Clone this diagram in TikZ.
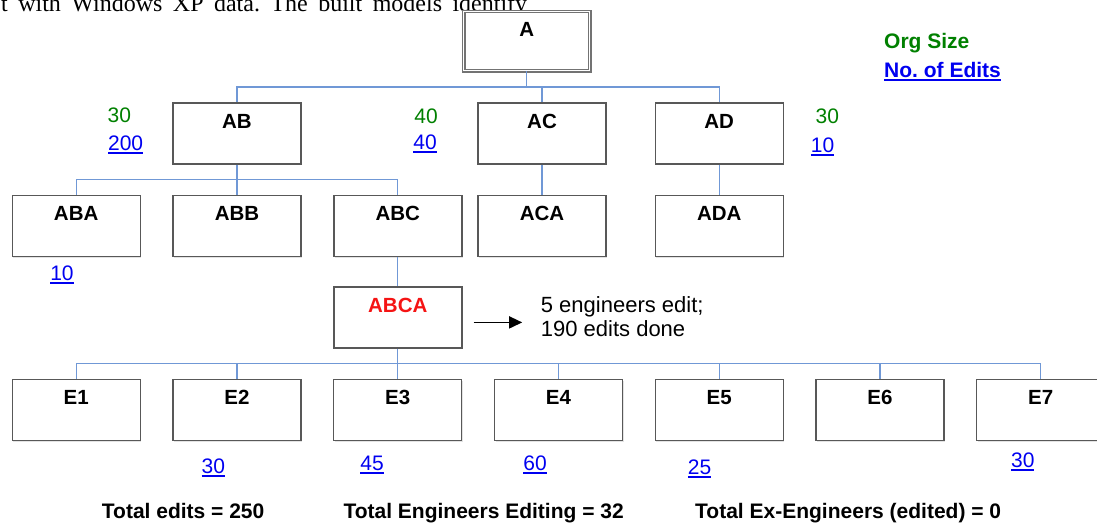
\documentclass[tikz,border=0pt]{standalone}
\usepackage{fontspec}
\setmainfont{Liberation Sans}
\newfontfamily\paperfont{Liberation Serif}
\usetikzlibrary{arrows.meta,shadows}
\definecolor{boxgray}{RGB}{88,88,88}
\definecolor{lineblue}{RGB}{112,152,214}
\definecolor{sizegreen}{RGB}{0,128,0}
\definecolor{editblue}{RGB}{0,0,240}
\definecolor{rootred}{RGB}{245,20,20}
\frenchspacing
\newcommand{\editcount}[1]{\setbox0\hbox{#1}\rlap{\rule[-3.4pt]{\wd0}{1.7pt}}\box0}
\tikzset{
  >={Triangle[length=13pt,width=12pt]},
  unit/.style={draw=boxgray,line width=1.4pt,fill=white,anchor=north,
    minimum width=128pt,minimum height=61pt,inner ysep=10.5pt,
    text height=14.7pt,text depth=25.3pt,font=\fontsize{20.5}{22}\selectfont\bfseries,
    drop shadow={opacity=0.22,shadow xshift=1.2pt,shadow yshift=-1.2pt}},
  root/.style={unit,draw=black!55,line width=1.2pt,double=white,double distance=1.4pt,
    minimum width=126pt,minimum height=59.2pt,text depth=23.5pt},
  tie/.style={draw=lineblue,line width=1.3pt},
  sizelbl/.style={text=sizegreen,font=\fontsize{21}{24}\selectfont,anchor=base,inner sep=0pt},
  editlbl/.style={text=editblue,font=\fontsize{21}{24}\selectfont,anchor=base,inner sep=0pt},
  note/.style={anchor=west,align=left,inner sep=0pt,font=\fontsize{22}{24}\selectfont},
  tally/.style={font=\fontsize{21}{24}\selectfont\bfseries,anchor=base west,inner sep=0pt},
  pointer/.style={->,line width=1.5pt,black},
}

\begin{document}
\begin{tikzpicture}[x=1pt,y=-1pt]
  \useasboundingbox (0,0) rectangle (1097,525);
  \clip (0,0) rectangle (1097,525);
  \node[font=\paperfont\fontsize{24}{26}\selectfont,anchor=base west,inner sep=0pt] (intro) at (1,11)
    {\makebox[526pt][s]{t with Windows XP data. The built models identify}};

  % org tree
  \node[root] (a) at (526.7,10.9) {A};
  \node[unit] (ab) at (237,102.4) {AB};
  \node[unit] (ac) at (542,102.4) {AC};
  \node[unit] (ad) at (719.2,102.4) {AD};
  \node[unit] (aba) at (76.2,194.9) {ABA};
  \node[unit] (abb) at (237,194.9) {ABB};
  \node[unit] (abc) at (397.8,194.9) {ABC};
  \node[unit] (aca) at (542,194.9) {ACA};
  \node[unit] (ada) at (719.2,194.9) {ADA};
  \node[unit,text=rootred] (abca) at (397.8,286.4) {ABCA};
  \foreach \i in {1,...,7}
    \node[unit] (e\i) at ({76.2+(\i-1)*160.75},379) {E\i};

  \foreach \c in {ab,ac,ad} \draw[tie] (a.south) -- ++(0,15.8) -| (\c.north);
  \foreach \c in {aba,abb,abc} \draw[tie] (ab.south) -- ++(0,15) -| (\c.north);
  \draw[tie] (ac.south) -- (aca.north);
  \draw[tie] (ad.south) -- (ada.north);
  \draw[tie] (abc.south) -- (abca.north);
  \foreach \i in {1,...,7} \draw[tie] (abca.south) -- ++(0,15) -| (e\i.north);

  % org sizes and edit counts
  \node[sizelbl] (sab) at (119.3,122.5) {30};
  \node[editlbl] (nab) at (125.6,150.2) {\editcount{200}};
  \node[sizelbl] (sac) at (426,123.5) {40};
  \node[editlbl] (nac) at (425,149.2) {\editcount{40}};
  \node[sizelbl] (sad) at (827.4,123.5) {30};
  \node[editlbl] (nad) at (822.5,152.5) {\editcount{10}};
  \node[editlbl] (naba) at (62,280.5) {\editcount{10}};
  \foreach \x/\y/\n [count=\k] in {213.4/473.5/30,372/470.2/45,535/470.2/60,699.6/474.2/25,1022.8/467.5/30}
    \node[editlbl] (ne\k) at (\x,\y) {\editcount{\n}};

  \node[sizelbl,font=\fontsize{21}{24}\selectfont\bfseries,anchor=base west] (keysize) at (884,48) {Org Size};
  \node[editlbl,font=\fontsize{21}{24}\selectfont\bfseries,anchor=base west] (keyedit) at (884,77.5) {\editcount{No. of Edits}};

  \node[note] (say) at (540.7,317) {5 engineers edit;\\190 edits done};
  \draw[pointer] ([shift={(11,4.8)}]abca.east) -- ++(48.7,0);

  \node[tally] (t1) at (101.7,518.5) {Total edits = 250};
  \node[tally] (t2) at (343.3,518.5) {Total Engineers Editing = 32};
  \node[tally] (t3) at (695,518.5) {Total Ex-Engineers (edited) = 0};
\end{tikzpicture}
\end{document}
